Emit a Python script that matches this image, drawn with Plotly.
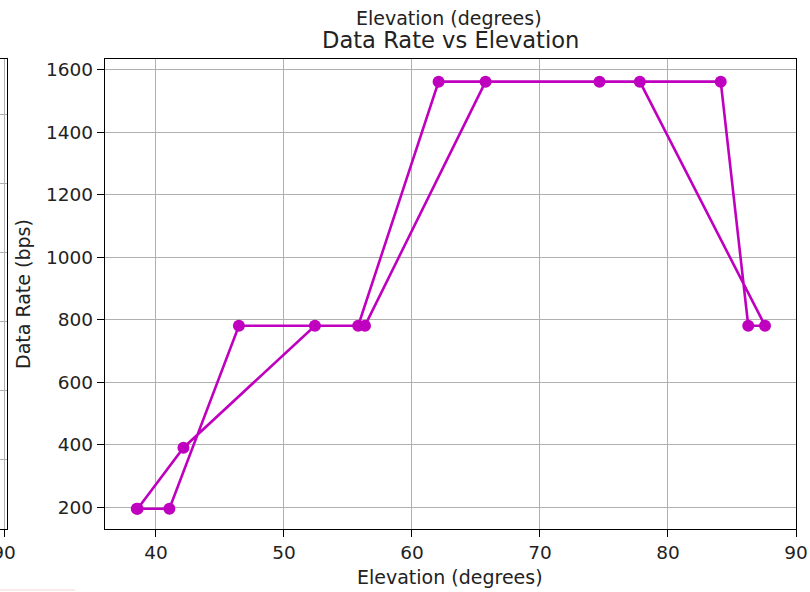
import plotly.graph_objects as go

# Data (in order of the recorded pass)
elevation = [38.57, 42.15, 52.42, 56.33, 65.75, 74.65, 77.8, 87.58, 86.27, 84.12, 62.08, 55.8, 46.48, 41.05, 38.5]
data_rate = [195.3, 390.6, 781.25, 781.25, 1562.5, 1562.5, 1562.5, 781.25, 781.25, 1562.5, 1562.5, 781.25, 781.25, 195.3, 195.3]

x_ticks = [40, 50, 60, 70, 80, 90]
y_ticks = [200, 400, 600, 800, 1000, 1200, 1400, 1600]

W, H = 810, 592
FONT = "DejaVu Sans"
MAG = "#BF00BF"
GRID = "#b0b0b0"

def px_x(p):
    return p / W

def px_y(p):
    return 1 - p / H

fig = go.Figure()

fig.add_trace(go.Scatter(
    x=elevation, y=data_rate, mode="lines+markers",
    line=dict(color=MAG, width=2.6),
    marker=dict(color=MAG, size=12),
    xaxis="x", yaxis="y", showlegend=False, hoverinfo="x+y",
))

# invisible trace for partial left subplot
fig.add_trace(go.Scatter(x=[], y=[], xaxis="x2", yaxis="y2", showlegend=False))

axis_common = dict(
    showline=True, linecolor="black", linewidth=1.4, mirror=True,
    ticks="outside", ticklen=7, tickwidth=1.4, tickcolor="black",
    showgrid=True, gridcolor=GRID, gridwidth=1.3, zeroline=False,
    tickfont=dict(family=FONT, size=18.5, color="#222"),
    automargin=False,
)

fig.update_layout(
    width=W, height=H,
    margin=dict(l=0, r=0, t=0, b=0),
    paper_bgcolor="white", plot_bgcolor="white",
    template="none",
    xaxis=dict(domain=[px_x(105), px_x(796)], range=[36.02, 90.0],
               tickvals=x_ticks, anchor="y", **axis_common),
    yaxis=dict(domain=[px_y(528.5), px_y(59)], range=[132, 1635],
               tickvals=y_ticks, anchor="x", **axis_common),
    xaxis2=dict(domain=[0, px_x(6.5)], range=[88, 91.25], tickvals=[90],
                anchor="y2", ticklabeloverflow="allow", **axis_common),
    yaxis2=dict(domain=[px_y(528.5), px_y(59)], range=[0, 6.8], dtick=1,
                showticklabels=False, anchor="x2",
                **{k: v for k, v in axis_common.items() if k not in ("ticks",)}),
    annotations=[
        dict(text="Data Rate vs Elevation", x=px_x(450.5), y=px_y(40),
             xref="paper", yref="paper", showarrow=False,
             xanchor="center", yanchor="middle",
             font=dict(family=FONT, size=22.6, color="#222")),
        dict(text="Elevation (degrees)", x=px_x(449), y=px_y(18),
             xref="paper", yref="paper", showarrow=False,
             xanchor="center", yanchor="middle",
             font=dict(family=FONT, size=19, color="#222")),
        dict(text="Elevation (degrees)", x=px_x(450), y=px_y(577),
             xref="paper", yref="paper", showarrow=False,
             xanchor="center", yanchor="middle",
             font=dict(family=FONT, size=19, color="#222")),
        dict(text="Data Rate (bps)", x=px_x(23), y=px_y(294),
             xref="paper", yref="paper", showarrow=False, textangle=-90,
             xanchor="center", yanchor="middle",
             font=dict(family=FONT, size=19, color="#222")),
    ],
    shapes=[
        dict(type="line", xref="paper", yref="paper",
             x0=0, x1=px_x(75), y0=px_y(590), y1=px_y(590),
             line=dict(color="#f6d6d6", width=1)),
    ],
)

fig.write_html("out.html")
